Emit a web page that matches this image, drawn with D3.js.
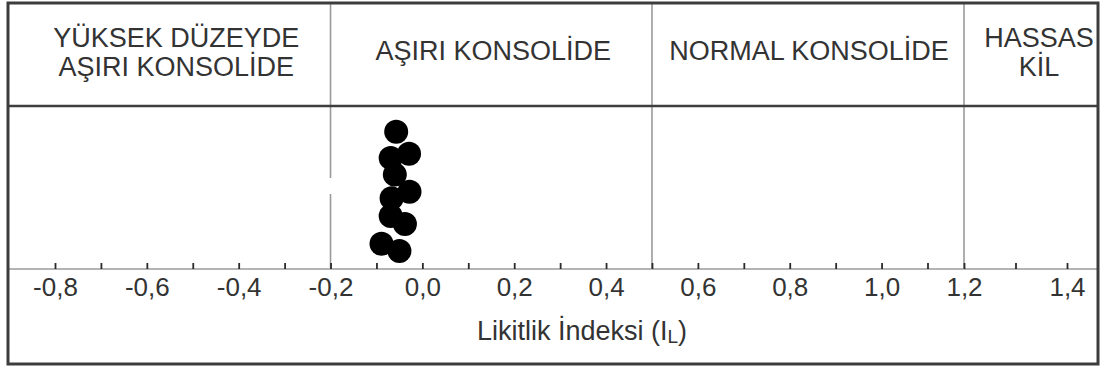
<!DOCTYPE html>
<html>
<head>
<meta charset="utf-8">
<script src="https://cdn.jsdelivr.net/npm/d3@7"></script>
<style>
  html, body { margin: 0; padding: 0; background: #fff; }
  svg { display: block; }
  text { font-family: "Liberation Sans", Arial, Helvetica, sans-serif; fill: #333; }
</style>
</head>
<body>
<svg id="chart" width="1102" height="369"></svg>
<script>
// Liquidity index (I_L) of the samples and their vertical stacking level
const liquidityIndex = [-0.057, -0.029, -0.069, -0.060, -0.028, -0.067, -0.069, -0.038, -0.089, -0.050];
const stackLevel     = [84.2, 70.7, 68.1, 57.9, 47.4, 43.4, 32.5, 27.6, 15.5, 11.0];

// Consistency zones along the I_L axis
const zoneBounds = [-0.2, 0.5, 1.2];
const zoneLabels = [
  ["YÜKSEK DÜZEYDE", "AŞIRI KONSOLİDE"],
  ["AŞIRI KONSOLİDE"],
  ["NORMAL KONSOLİDE"],
  ["HASSAS", "KİL"]
];

// Axis ticks
const majorTicks = [-0.8, -0.6, -0.4, -0.2, 0.0, 0.2, 0.4, 0.6, 0.8, 1.0, 1.2, 1.4];
const minorTicks = [-0.7, -0.5, -0.3, -0.1, 0.1, 0.3, 0.5, 0.7, 0.9, 1.1, 1.3];
const tickLabels = ["-0,8", "-0,6", "-0,4", "-0,2", "0,0", "0,2", "0,4", "0,6", "0,8", "1,0", "1,2", "1,4"];
const axisTitle = "Likitlik İndeksi (I";
const axisTitleSub = "L";

const svg = d3.select("#chart");

const box = { left: 8, right: 1098, top: 3, bottom: 364 };
const headerY = 106;
const axisY = 269;

// the last panel of the axis is drawn slightly wider than the rest
const x = d3.scaleLinear()
  .domain([-0.8, 1.1, 1.2, 1.4])
  .range([55, 927.5, 964, 1067]);
const y = d3.scaleLinear().domain([0, 100]).range([axisY, headerY]);

// zone dividers (from top frame down to the axis line)
svg.append("g").selectAll("line")
  .data(zoneBounds)
  .join("line")
  .attr("x1", d => x(d)).attr("x2", d => x(d))
  .attr("y1", box.top).attr("y2", axisY)
  .attr("stroke", "#9a9a9a")
  .attr("stroke-width", 1.6)
  .attr("stroke-dasharray", (d, i) => i === 0 ? "175 16 200" : null);

// axis base line
svg.append("line")
  .attr("x1", box.left).attr("x2", box.right)
  .attr("y1", axisY).attr("y2", axisY)
  .attr("stroke", "#b4b4b4").attr("stroke-width", 1.8);

// header separator
svg.append("line")
  .attr("x1", box.left).attr("x2", box.right)
  .attr("y1", headerY).attr("y2", headerY)
  .attr("stroke", "#3f3f3f").attr("stroke-width", 2.6);

// outer frame
svg.append("rect")
  .attr("x", box.left).attr("y", box.top)
  .attr("width", box.right - box.left).attr("height", box.bottom - box.top)
  .attr("fill", "none").attr("stroke", "#3c3c3c").attr("stroke-width", 3);

// zone headings
const edges = [box.left, ...zoneBounds.map(x), box.right];
const headNudge = [7, 2, 1, 8];
const heads = svg.append("g").attr("font-size", 27);
zoneLabels.forEach((lines, i) => {
  const cx = (edges[i] + edges[i + 1]) / 2 + headNudge[i];
  const baselines = lines.length === 2 ? [47, 75.5] : [60];
  lines.forEach((t, j) => {
    heads.append("text")
      .attr("x", cx).attr("y", baselines[j])
      .attr("text-anchor", "middle")
      .text(t);
  });
});

// major ticks with labels, ticks pointing upward
const labelOf = new Map(majorTicks.map((v, i) => [v, tickLabels[i]]));
const axisMajor = d3.axisBottom(x)
  .tickValues(majorTicks)
  .tickSizeInner(-6).tickSizeOuter(0)
  .tickPadding(8.5)
  .tickFormat(d => labelOf.get(d));
const gMajor = svg.append("g").attr("transform", `translate(0,${axisY})`).call(axisMajor);
gMajor.select(".domain").remove();
gMajor.selectAll(".tick line").attr("stroke", "#2a2a2a").attr("stroke-width", 1.8);
gMajor.selectAll(".tick text")
  .attr("font-size", 26)
  .attr("font-family", "Liberation Sans, Arial, sans-serif")
  .attr("fill", "#333");

const axisMinor = d3.axisBottom(x)
  .tickValues(minorTicks)
  .tickSizeInner(-6).tickSizeOuter(0)
  .tickFormat("");
const gMinor = svg.append("g").attr("transform", `translate(0,${axisY})`).call(axisMinor);
gMinor.select(".domain").remove();
gMinor.selectAll(".tick line").attr("stroke", "#2a2a2a").attr("stroke-width", 1.8);

// axis title with subscript
const title = svg.append("text")
  .attr("x", 582).attr("y", 340)
  .attr("text-anchor", "middle")
  .attr("font-size", 27)
  .text(axisTitle);
title.append("tspan").attr("font-size", 19).attr("dy", 3).text(axisTitleSub);
title.append("tspan").attr("dy", -3).text(")");

// samples
svg.append("g").selectAll("circle")
  .data(liquidityIndex.map((v, i) => ({ v, s: stackLevel[i] })))
  .join("circle")
  .attr("cx", d => x(d.v))
  .attr("cy", d => y(d.s))
  .attr("r", 12)
  .attr("fill", "#000");
</script>
</body>
</html>
